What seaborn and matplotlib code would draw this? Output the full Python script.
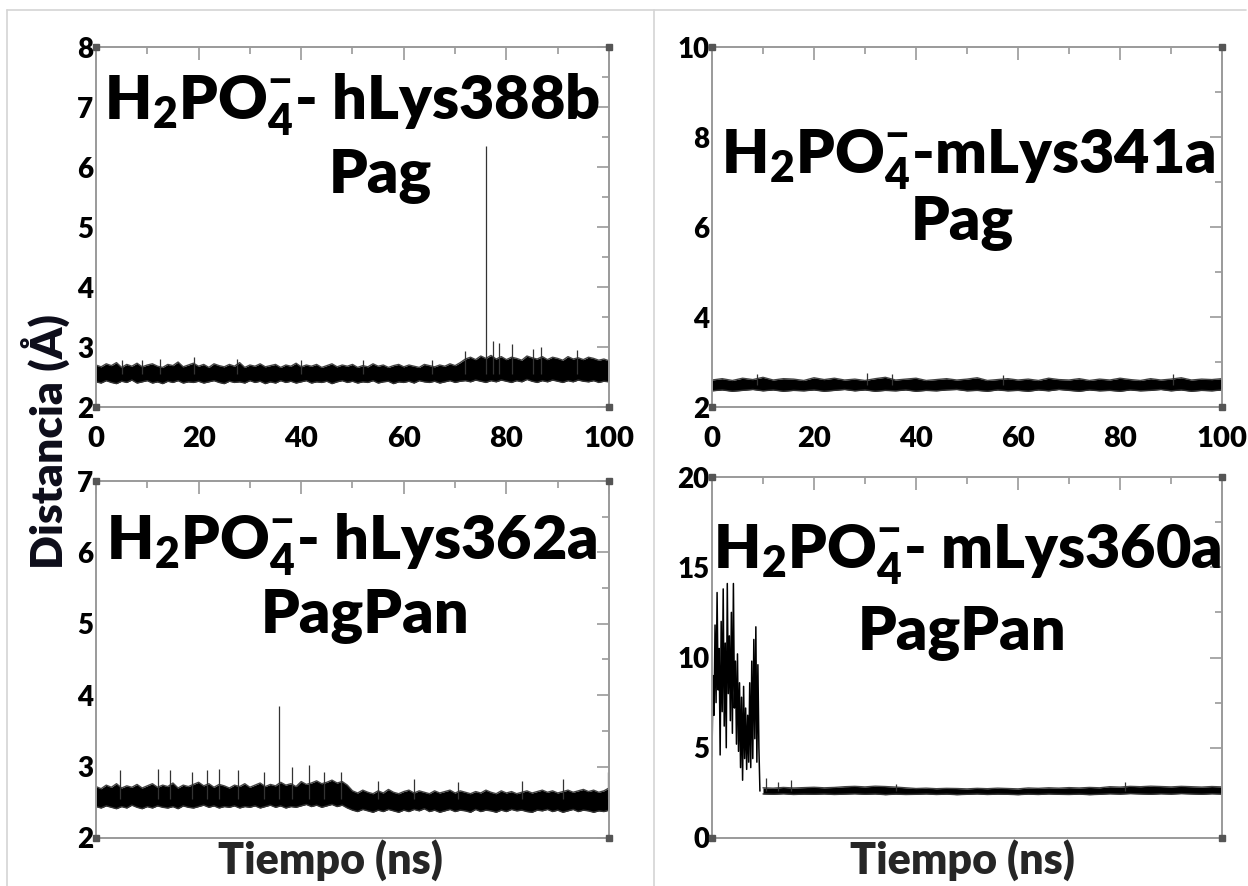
"""
Distance H2PO4- ... Lys over 100 ns of MD, four panels (Pag / PagPan).
Writes out.png (1248x886).
"""

import numpy as np
import matplotlib.pyplot as plt
from matplotlib.lines import Line2D
import seaborn as sns


# ─── Data ────────────────────────────────────────────────────────────────────

# hLys388b Pag : dense band, 1 ns resolution, plus thin spikes
t1 = np.arange(0, 101, 1)
lo1 = [2.42, 2.40, 2.44, 2.41, 2.39, 2.43, 2.41, 2.45, 2.40, 2.42,
       2.44, 2.40, 2.42, 2.39, 2.43, 2.41, 2.44, 2.40, 2.42, 2.41,
       2.43, 2.40, 2.42, 2.44, 2.41, 2.39, 2.43, 2.41, 2.42, 2.40,
       2.44, 2.41, 2.43, 2.39, 2.42, 2.40, 2.44, 2.41, 2.43, 2.40,
       2.42, 2.44, 2.40, 2.42, 2.41, 2.43, 2.39, 2.42, 2.44, 2.41,
       2.43, 2.40, 2.42, 2.41, 2.44, 2.40, 2.42, 2.43, 2.39, 2.42,
       2.41, 2.43, 2.40, 2.44, 2.42, 2.41, 2.43, 2.40, 2.42, 2.44,
       2.41, 2.43, 2.44, 2.42, 2.45, 2.43, 2.41, 2.44, 2.42, 2.45,
       2.43, 2.41, 2.44, 2.42, 2.46, 2.43, 2.41, 2.44, 2.42, 2.45,
       2.43, 2.41, 2.44, 2.42, 2.45, 2.43, 2.42, 2.44, 2.41, 2.43, 2.42]
hi1 = [2.70, 2.67, 2.72, 2.69, 2.74, 2.66, 2.71, 2.68, 2.73, 2.67,
       2.70, 2.72, 2.68, 2.66, 2.71, 2.69, 2.75, 2.67, 2.70, 2.73,
       2.68, 2.71, 2.66, 2.72, 2.69, 2.67, 2.71, 2.68, 2.74, 2.66,
       2.70, 2.68, 2.72, 2.67, 2.69, 2.71, 2.66, 2.70, 2.68, 2.73,
       2.67, 2.70, 2.68, 2.71, 2.66, 2.69, 2.72, 2.67, 2.70, 2.68,
       2.71, 2.66, 2.69, 2.67, 2.72, 2.68, 2.70, 2.66, 2.69, 2.71,
       2.67, 2.70, 2.68, 2.66, 2.71, 2.69, 2.67, 2.70, 2.68, 2.72,
       2.69, 2.74, 2.80, 2.83, 2.79, 2.85, 2.81, 2.86, 2.80, 2.84,
       2.79, 2.83, 2.81, 2.78, 2.85, 2.82, 2.80, 2.84, 2.79, 2.83,
       2.81, 2.78, 2.84, 2.80, 2.82, 2.79, 2.83, 2.81, 2.78, 2.80, 2.77]
spk1_t = [5.0, 9.0, 12.5, 19.1, 27.5, 40.0, 52.0, 65.5, 71.9,
          76.0, 77.3, 78.6, 81.1, 85.2, 86.7, 93.7]
spk1_v = [2.78, 2.78, 2.80, 2.83, 2.80, 2.78, 2.78, 2.79, 2.93,
          6.35, 3.10, 3.07, 3.05, 2.97, 3.00, 2.95]

# mLys341a Pag : 2 ns resolution
t2 = np.arange(0, 101, 2)
lo2 = [2.36, 2.38, 2.35, 2.37, 2.39, 2.36, 2.38, 2.35, 2.37, 2.36,
       2.38, 2.35, 2.37, 2.39, 2.36, 2.38, 2.35, 2.37, 2.36, 2.38,
       2.35, 2.37, 2.36, 2.38, 2.39, 2.36, 2.37, 2.35, 2.38, 2.36,
       2.37, 2.35, 2.38, 2.36, 2.39, 2.37, 2.35, 2.38, 2.36, 2.37,
       2.35, 2.38, 2.36, 2.37, 2.39, 2.36, 2.38, 2.35, 2.37, 2.36, 2.38]
hi2 = [2.60, 2.63, 2.59, 2.64, 2.61, 2.66, 2.60, 2.63, 2.62, 2.59,
       2.65, 2.61, 2.64, 2.60, 2.62, 2.59, 2.63, 2.66, 2.60, 2.62,
       2.64, 2.59, 2.61, 2.63, 2.60, 2.62, 2.65, 2.59, 2.61, 2.63,
       2.60, 2.62, 2.59, 2.64, 2.61, 2.60, 2.63, 2.59, 2.62, 2.60,
       2.64, 2.61, 2.59, 2.63, 2.60, 2.62, 2.65, 2.60, 2.62, 2.61, 2.63]
spk2_t = [8.8, 30.3, 35.2, 57.0, 90.4]
spk2_v = [2.74, 2.76, 2.74, 2.72, 2.73]

# hLys362a PagPan : 1 ns resolution
t3 = np.arange(0, 101, 1)
lo3 = [2.44, 2.42, 2.45, 2.43, 2.41, 2.44, 2.42, 2.46, 2.43, 2.41,
       2.44, 2.42, 2.45, 2.43, 2.42, 2.44, 2.41, 2.45, 2.43, 2.42,
       2.44, 2.46, 2.43, 2.45, 2.42, 2.44, 2.43, 2.45, 2.42, 2.44,
       2.43, 2.45, 2.42, 2.44, 2.46, 2.43, 2.45, 2.42, 2.44, 2.43,
       2.45, 2.47, 2.44, 2.46, 2.43, 2.45, 2.47, 2.44, 2.46, 2.42,
       2.39, 2.37, 2.40, 2.38, 2.36, 2.39, 2.37, 2.40, 2.38, 2.36,
       2.39, 2.37, 2.40, 2.38, 2.41, 2.37, 2.39, 2.36, 2.38, 2.40,
       2.37, 2.39, 2.38, 2.36, 2.40, 2.37, 2.39, 2.38, 2.36, 2.39,
       2.37, 2.40, 2.38, 2.39, 2.37, 2.36, 2.39, 2.38, 2.40, 2.37,
       2.39, 2.36, 2.38, 2.40, 2.37, 2.39, 2.38, 2.36, 2.38, 2.37, 2.39]
hi3 = [2.72, 2.69, 2.74, 2.71, 2.76, 2.70, 2.73, 2.71, 2.75, 2.70,
       2.73, 2.76, 2.71, 2.74, 2.72, 2.77, 2.70, 2.74, 2.72, 2.75,
       2.78, 2.73, 2.76, 2.71, 2.75, 2.73, 2.70, 2.74, 2.72, 2.76,
       2.71, 2.74, 2.77, 2.72, 2.75, 2.73, 2.78, 2.74, 2.76, 2.72,
       2.79, 2.75, 2.77, 2.80, 2.76, 2.78, 2.81, 2.77, 2.79, 2.74,
       2.66, 2.63, 2.67, 2.64, 2.62, 2.66, 2.63, 2.68, 2.64, 2.62,
       2.65, 2.67, 2.63, 2.66, 2.64, 2.62, 2.66, 2.63, 2.65, 2.67,
       2.63, 2.66, 2.64, 2.62, 2.65, 2.63, 2.67, 2.64, 2.62, 2.66,
       2.63, 2.65, 2.62, 2.64, 2.66, 2.63, 2.65, 2.67, 2.64, 2.66,
       2.63, 2.65, 2.67, 2.64, 2.66, 2.68, 2.65, 2.67, 2.64, 2.66, 2.70]
spk3_t = [4.7, 12.1, 14.4, 18.8, 21.6, 24.0, 27.7, 32.7, 35.7, 38.2,
          41.5, 44.4, 47.8, 55.0, 62.0, 70.5, 83.0, 91.0, 99.8]
spk3_v = [2.95, 2.97, 2.95, 2.93, 2.95, 2.97, 2.95, 2.93, 3.85, 3.00,
          3.02, 2.93, 2.93, 2.80, 2.82, 2.78, 2.80, 2.82, 2.93]

# mLys360a PagPan : unbound for the first ~9 ns (0.2 ns trace), then a band
t4a = np.linspace(0, 9.4, 48)
v4a = [4.5, 9.0, 6.8, 11.8, 7.5, 13.6, 8.2, 10.5, 4.6, 12.0,
       7.0, 13.8, 6.2, 10.8, 5.0, 14.1, 8.0, 11.2, 6.5, 12.5,
       5.8, 14.1, 7.2, 9.8, 5.2, 10.2, 4.8, 8.6, 3.9, 7.8,
       3.2, 8.4, 4.4, 7.2, 3.8, 6.8, 4.2, 8.6, 3.9, 9.8,
       4.4, 11.0, 5.5, 11.7, 4.2, 9.6, 5.0, 2.6]
t4 = np.arange(10, 101, 2)
lo4 = [2.44, 2.42, 2.45, 2.41, 2.43, 2.42, 2.44, 2.41, 2.43, 2.45,
       2.42, 2.44, 2.40, 2.43, 2.41, 2.42, 2.44, 2.41, 2.43, 2.40,
       2.42, 2.44, 2.41, 2.43, 2.42, 2.40, 2.43, 2.41, 2.44, 2.42,
       2.41, 2.43, 2.40, 2.42, 2.45, 2.43, 2.46, 2.44, 2.42, 2.45,
       2.43, 2.46, 2.44, 2.42, 2.45, 2.43]
hi4 = [2.78, 2.76, 2.80, 2.77, 2.79, 2.81, 2.78, 2.80, 2.84, 2.86,
       2.83, 2.87, 2.85, 2.82, 2.78, 2.74, 2.76, 2.73, 2.75, 2.74,
       2.72, 2.75, 2.73, 2.76, 2.74, 2.72, 2.77, 2.75, 2.78, 2.76,
       2.79, 2.77, 2.80, 2.78, 2.84, 2.82, 2.86, 2.84, 2.87, 2.85,
       2.83, 2.86, 2.84, 2.82, 2.85, 2.83]
spk4_t = [10.5, 13.0, 15.5, 36.0, 81.0]
spk4_v = [3.3, 3.1, 3.2, 3.0, 3.1]

TITLES = [
    ("H$_\\mathregular{2}$PO$_\\mathregular{4}^\\mathregular{-}$- hLys388b", "Pag"),
    ("H$_\\mathregular{2}$PO$_\\mathregular{4}^\\mathregular{-}$-mLys341a", "Pag"),
    ("H$_\\mathregular{2}$PO$_\\mathregular{4}^\\mathregular{-}$- hLys362a", "PagPan"),
    ("H$_\\mathregular{2}$PO$_\\mathregular{4}^\\mathregular{-}$- mLys360a", "PagPan"),
]
YLIMS = [(2, 8), (2, 10), (2, 7), (0, 20)]
YMAJOR = [1, 2, 1, 5]
XTICKS = [0, 20, 40, 60, 80, 100]


# ─── Style ───────────────────────────────────────────────────────────────────

sns.set_style("white")
plt.rcParams["font.family"] = ["Lato", "DejaVu Sans"]
plt.rcParams["font.weight"] = "heavy"
plt.rcParams["mathtext.fontset"] = "custom"

SPINE = "#9a9a9a"
WEIGHT = "heavy"


def style_axes(ax, ylim, ymajor, show_xlabels):
    ax.set_xlim(0, 100)
    ax.set_ylim(*ylim)
    ax.set_xticks(XTICKS)
    ax.set_xticks(range(10, 100, 20), minor=True)
    ax.set_yticks(np.arange(ylim[0], ylim[1] + 0.01, ymajor))
    ax.set_yticks(np.arange(ylim[0] + ymajor / 2, ylim[1], ymajor), minor=True)
    ax.tick_params(which="both", direction="in", top=True, right=True,
                   color=SPINE, width=1.2, labelcolor="black")
    ax.tick_params(which="major", length=9)
    ax.tick_params(which="minor", length=5)
    ax.tick_params(axis="y", labelsize=20, pad=2)
    ax.tick_params(axis="x", labelsize=21, pad=14, labelbottom=show_xlabels)
    for lab in ax.get_xticklabels() + ax.get_yticklabels():
        lab.set_fontweight(WEIGHT)
    for s in ax.spines.values():
        s.set_color(SPINE)
        s.set_linewidth(1.4)
    ax.set_xlabel("")
    ax.set_ylabel("")
    # little corner squares of the original plotting program
    ax.plot([0, 1, 0, 1], [0, 0, 1, 1], "s", ms=4, color="#555555",
            transform=ax.transAxes, clip_on=False, zorder=5)


def draw_band(ax, t, lo, hi, spk_t, spk_v, base):
    ax.fill_between(t, lo, hi, color="black", lw=0)
    sns.lineplot(x=t, y=lo, ax=ax, color="#333333", lw=1.0)
    sns.lineplot(x=t, y=hi, ax=ax, color="#444444", lw=1.0)
    ax.vlines(spk_t, base, spk_v, color="#333333", lw=0.9)


def add_title(ax, line1, line2, pos1, pos2, size):
    ax.text(*pos1, line1, transform=ax.transAxes, ha="center", va="center",
            fontsize=size, fontweight=WEIGHT, color="black")
    ax.text(*pos2, line2, transform=ax.transAxes, ha="center", va="center",
            fontsize=size, fontweight=WEIGHT, color="black")


# ─── Figure ──────────────────────────────────────────────────────────────────

fig = plt.figure(figsize=(12.48, 8.86), dpi=100)
fig.patch.set_facecolor("white")

rects = [
    (0.0769, 0.5406, 0.4111, 0.4063),
    (0.5705, 0.5406, 0.4087, 0.4063),
    (0.0769, 0.0542, 0.4111, 0.4029),
    (0.5705, 0.0542, 0.4087, 0.4074),
]
axes = [fig.add_axes(r) for r in rects]

draw_band(axes[0], t1, lo1, hi1, spk1_t, spk1_v, 2.55)
draw_band(axes[1], t2, lo2, hi2, spk2_t, spk2_v, 2.5)
draw_band(axes[2], t3, lo3, hi3, spk3_t, spk3_v, 2.55)
sns.lineplot(x=t4a, y=v4a, ax=axes[3], color="black", lw=1.1)
draw_band(axes[3], t4, lo4, hi4, spk4_t, spk4_v, 2.6)

for i, ax in enumerate(axes):
    style_axes(ax, YLIMS[i], YMAJOR[i], show_xlabels=(i < 2))

title_pos = [
    ((0.499, 0.839), (0.554, 0.644)),
    ((0.502, 0.686), (0.490, 0.514)),
    ((0.499, 0.821), (0.524, 0.625)),
    ((0.500, 0.784), (0.490, 0.571)),
]
title_size = [44, 44, 44, 44]
for ax, (l1, l2), (p1, p2), sz in zip(axes, TITLES, title_pos, title_size):
    add_title(ax, l1, l2, p1, p2, sz)

# shared axis labels
fig.text(0.036, 1 - 442 / 886, "Distancia (Å)", rotation=90, ha="center",
         va="center", fontsize=32, fontweight=WEIGHT, color="#0d0d1a")
fig.text(330 / 1248, 1 - 860 / 886, "Tiempo (ns)", ha="center", va="center",
         fontsize=31, fontweight=WEIGHT)
fig.text(962 / 1248, 1 - 860 / 886, "Tiempo (ns)", ha="center", va="center",
         fontsize=31, fontweight=WEIGHT)

# light frame + divider of the source slide
frame = "#d4d4d4"
fig.add_artist(Line2D([7 / 1248, 1246 / 1248], [1 - 10 / 886] * 2,
                      color=frame, lw=1.2, transform=fig.transFigure))
fig.add_artist(Line2D([7 / 1248] * 2, [0, 1 - 10 / 886],
                      color=frame, lw=1.2, transform=fig.transFigure))
fig.add_artist(Line2D([654 / 1248] * 2, [0, 1 - 10 / 886],
                      color=frame, lw=1.2, transform=fig.transFigure))

fig.savefig("out.png", dpi=100)
plt.close(fig)
print("Saved -> out.png")
